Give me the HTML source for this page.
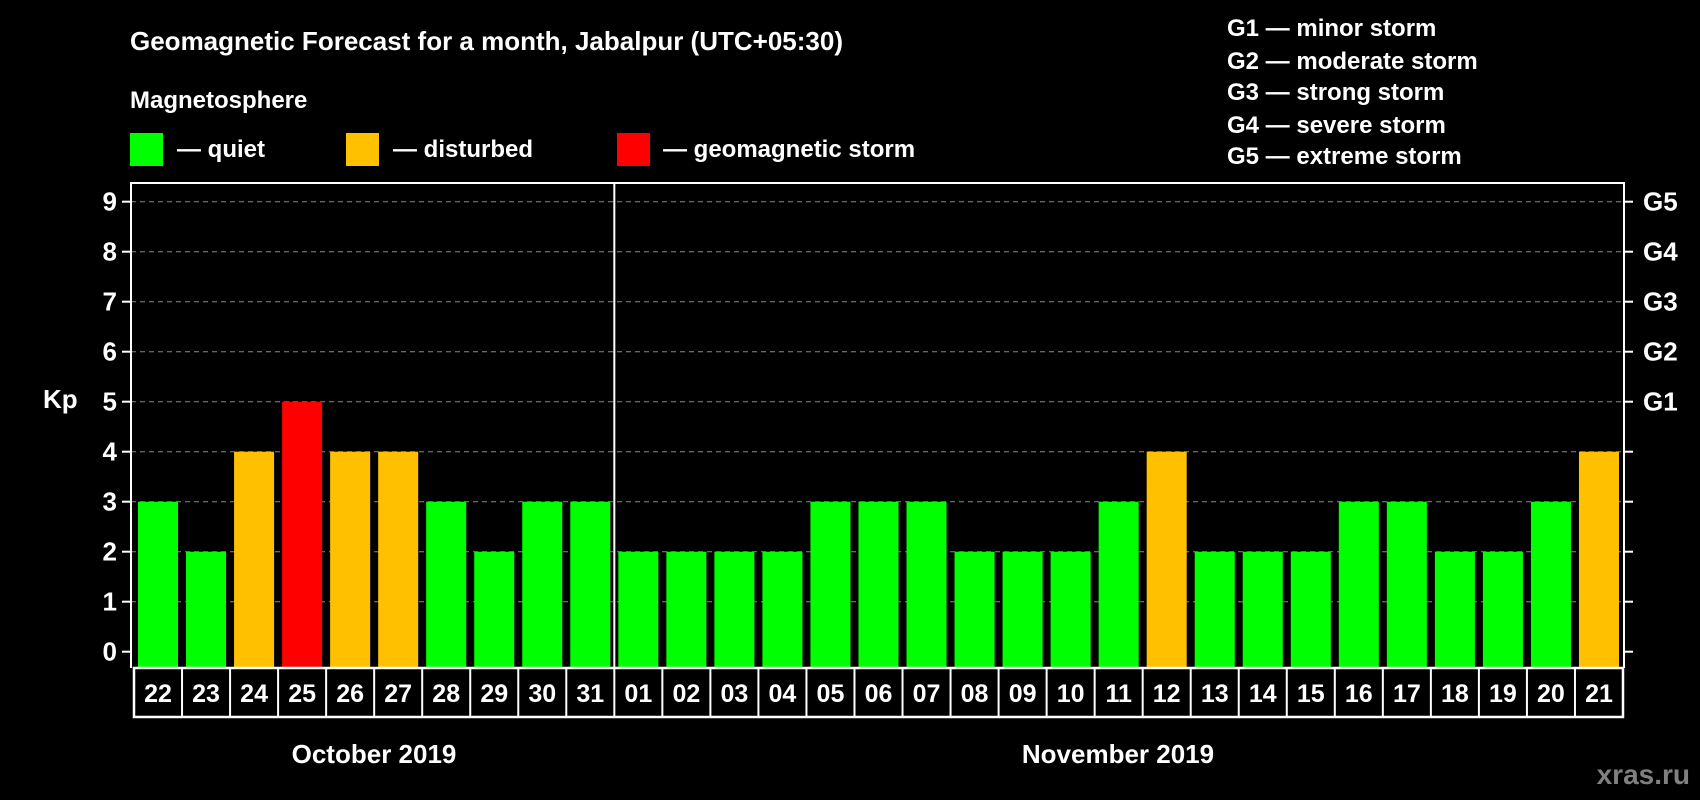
<!DOCTYPE html>
<html><head><meta charset="utf-8"><style>
html,body{margin:0;padding:0;background:#000;}
svg{display:block;font-family:"Liberation Sans",Arial,sans-serif;font-weight:bold;}
</style></head><body>
<svg id="chart" width="1700" height="800" viewBox="0 0 1700 800" xmlns="http://www.w3.org/2000/svg">
<rect width="1700" height="800" fill="#000"/>
<text x="130" y="50" fill="#fff" font-size="26">Geomagnetic Forecast for a month, Jabalpur (UTC+05:30)</text>
<text x="130" y="108" fill="#fff" font-size="24">Magnetosphere</text>
<g>
<rect x="130" y="133" width="33" height="33" fill="#00ff00"/>
<text x="177" y="157" fill="#fff" font-size="24">— quiet</text>
<rect x="346" y="133" width="33" height="33" fill="#ffc000"/>
<text x="393" y="157" fill="#fff" font-size="24">— disturbed</text>
<rect x="617" y="133" width="33" height="33" fill="#ff0000"/>
<text x="663" y="157" fill="#fff" font-size="24">— geomagnetic storm</text>
</g>
<g font-size="24" fill="#fff">
<text x="1227" y="36">G1 — minor storm</text>
<text x="1227" y="69">G2 — moderate storm</text>
<text x="1227" y="100">G3 — strong storm</text>
<text x="1227" y="133">G4 — severe storm</text>
<text x="1227" y="164">G5 — extreme storm</text>
</g>
<text x="43" y="408" fill="#fff" font-size="26">Kp</text>
<g id="grid"></g><g id="bars"></g><g id="axes"></g>
<text x="374" y="763" fill="#fff" font-size="26" text-anchor="middle">October 2019</text>
<text x="1118" y="763" fill="#fff" font-size="26" text-anchor="middle">November 2019</text>
<text x="1690" y="784" fill="#808080" font-size="28" text-anchor="end">xras.ru</text>
</svg>
<script>
const days = ["22","23","24","25","26","27","28","29","30","31","01","02","03","04","05","06","07","08","09","10","11","12","13","14","15","16","17","18","19","20","21"];
const kpValues = [3,2,4,5,4,4,3,2,3,3,2,2,2,2,3,3,3,2,2,2,3,4,2,2,2,3,3,2,2,3,4];
const yTicks = [0,1,2,3,4,5,6,7,8,9];
const gLabels = ["G1","G2","G3","G4","G5"];
const gLevels = [5,6,7,8,9];
const NS="http://www.w3.org/2000/svg";
const L=131,R=1624,T=183,B=668,cellL=134,cellR=1623,rowB=717;
const y=v=>651.7-v*50;
const cw=(cellR-cellL)/days.length;
const x=i=>cellL+i*cw;
function mk(tag,attrs,parent){const e=document.createElementNS(NS,tag);for(const k in attrs)e.setAttribute(k,attrs[k]);document.getElementById(parent).appendChild(e);return e;}
yTicks.forEach(v=>{
  if(v>=1&&v<=9){const g=mk('line',{x1:L,x2:R,y1:y(v),y2:y(v),stroke:'#888','stroke-dasharray':'5,4','stroke-width':1},'grid');
  
  }
  const t=mk('line',{x1:L-9,x2:L,y1:y(v),y2:y(v),stroke:'#fff','stroke-width':2},'axes');
  
  
  const t2=mk('line',{x1:R,x2:R+9,y1:y(v),y2:y(v),stroke:'#fff','stroke-width':2},'axes');
  
  
  const lb=mk('text',{x:L-14,y:y(v)+9,fill:'#fff','font-size':26,'text-anchor':'end'},'axes');lb.textContent=v;
  
  
});
gLabels.forEach((g,i)=>{
  const lb=mk('text',{x:R+19,y:y(gLevels[i])+9,fill:'#fff','font-size':26},'axes');lb.textContent=g;
  
  
});
kpValues.forEach((v,i)=>{
  const c=v>=5?'#ff0000':(v>=4?'#ffc000':'#00ff00');
  const b=mk('rect',{x:x(i)+4,y:y(v),width:cw-8,height:B-y(v),fill:c},'bars');
  
  
  const lb=mk('text',{x:x(i)+cw/2,y:702,fill:'#fff','font-size':25,'text-anchor':'middle'},'axes');lb.textContent=days[i];
  
  
  if(i>0){const s=mk('line',{x1:x(i),x2:x(i),y1:B,y2:rowB,stroke:'#fff','stroke-width':2},'axes');
  
  }
});
const fr=mk('path',{d:`M${L},${B} L${L},${T} L${R},${T} L${R},${B}`,fill:'none',stroke:'#fff','stroke-width':2},'axes');


const row=mk('rect',{x:cellL,y:B,width:cellR-cellL,height:rowB-B,fill:'none',stroke:'#fff','stroke-width':2.5},'axes');


const mi=days.indexOf("01");
const sep=mk('line',{x1:x(mi),x2:x(mi),y1:T,y2:B,stroke:'#fff','stroke-width':2},'axes');


</script>
</body></html>
